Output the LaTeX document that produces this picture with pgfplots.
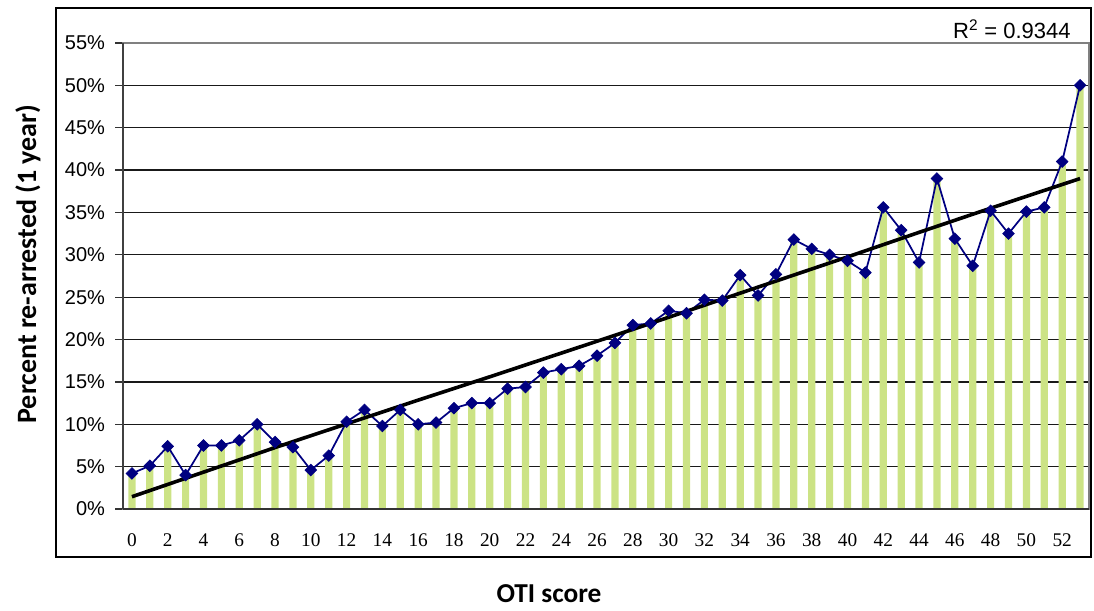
\documentclass[border=0pt]{standalone}
\usepackage{pgfplots}
\pgfplotsset{compat=1.18}
\usepackage{pgfplotstable}
\usepackage{fontspec}
\setmainfont{Liberation Sans}
\newfontfamily\timesf{Liberation Serif}
\newfontfamily\carlito{Carlito}
\definecolor{barG}{RGB}{204,227,133}
\definecolor{navyL}{RGB}{0,0,128}

\pgfplotstableread{
x y
0 4.2
1 5.1
2 7.4
3 4.0
4 7.5
5 7.5
6 8.1
7 10.0
8 7.9
9 7.3
10 4.6
11 6.3
12 10.3
13 11.7
14 9.8
15 11.7
16 10.0
17 10.2
18 11.9
19 12.5
20 12.5
21 14.2
22 14.4
23 16.1
24 16.5
25 16.9
26 18.1
27 19.6
28 21.7
29 21.9
30 23.4
31 23.1
32 24.7
33 24.6
34 27.6
35 25.2
36 27.7
37 31.8
38 30.7
39 30.0
40 29.3
41 27.9
42 35.6
43 32.9
44 29.1
45 39.0
46 31.9
47 28.7
48 35.2
49 32.5
50 35.1
51 35.6
52 41.0
53 50.0
}\datatable

\pgfplotstableread{
x y
0 1.45
4 4.35
8 7.25
12 10.05
16 12.85
20 15.60
24 18.40
28 21.20
32 24.05
36 26.90
40 29.75
44 32.65
48 35.50
53 39.00
}\trendtable

\begin{document}
\begin{tikzpicture}
\useasboundingbox (0,0) rectangle (820.5pt,457.5pt);
\draw[line width=1.5pt] (42pt,39.75pt) rectangle (818.6pt,451.5pt);
\begin{axis}[
  at={(92.25pt,75.75pt)}, anchor=south west,
  scale only axis, width=724.5pt, height=349.5pt,
  xmin=-0.5, xmax=53.5, ymin=0, ymax=55,
  xtick={0,2,...,52},
  minor xtick={-0.5,0.5,...,53.5},
  ytick={0,5,...,55},
  tick align=outside,
  xtick style={draw=none},
  minor x tick style={black!80, line width=0.9pt},
  minor tick length=4pt,
  major tick length=6pt,
  ytick style={black!80, line width=0.9pt},
  ymajorgrids,
  major grid style={black!90, line width=0.9pt},
  axis line style={black!50, line width=1pt},
  tick pos=left,
  /pgf/number format/assume math mode=true,
  yticklabel={\pgfmathprintnumber{\tick}\%},
  yticklabel style={font=\fontsize{15}{17}\selectfont, xshift=-4pt},
  xticklabel style={font=\fontsize{14.5}{16}\timesf, yshift=-9pt},
  clip=false,
]
\addplot[ybar, bar width=5.4pt, bar shift=0pt, fill=barG, draw=none] table[x=x,y=y] {\datatable};
\addplot[navyL, line width=1.3pt, mark=square*, mark size=3.1pt, mark options={rotate=45, fill=navyL, draw=navyL, line width=0.5pt}] table[x=x,y=y] {\datatable};
\addplot[black, line width=2.7pt, no marks] table[x=x,y=y] {\trendtable};
\draw[black!75, line width=1.3pt] (axis cs:-0.5,0) -- (axis cs:-0.5,55);
\draw[black!80, line width=1.1pt] (axis cs:-0.5,0) -- (axis cs:53.5,0);
\end{axis}
\node[anchor=east, font=\fontsize{16.5}{18}\selectfont] at (806.5pt,435.75pt) {R\textsuperscript{2} = 0.9344};
\node[rotate=90, font=\fontsize{21}{24}\carlito\bfseries] at (21pt,259.5pt) {Percent re-arrested (1 year)};
\node[anchor=base, inner sep=0pt, font=\fontsize{20.5}{24}\carlito\bfseries] at (411.75pt,6pt) {OTI score};
\end{tikzpicture}
\end{document}
